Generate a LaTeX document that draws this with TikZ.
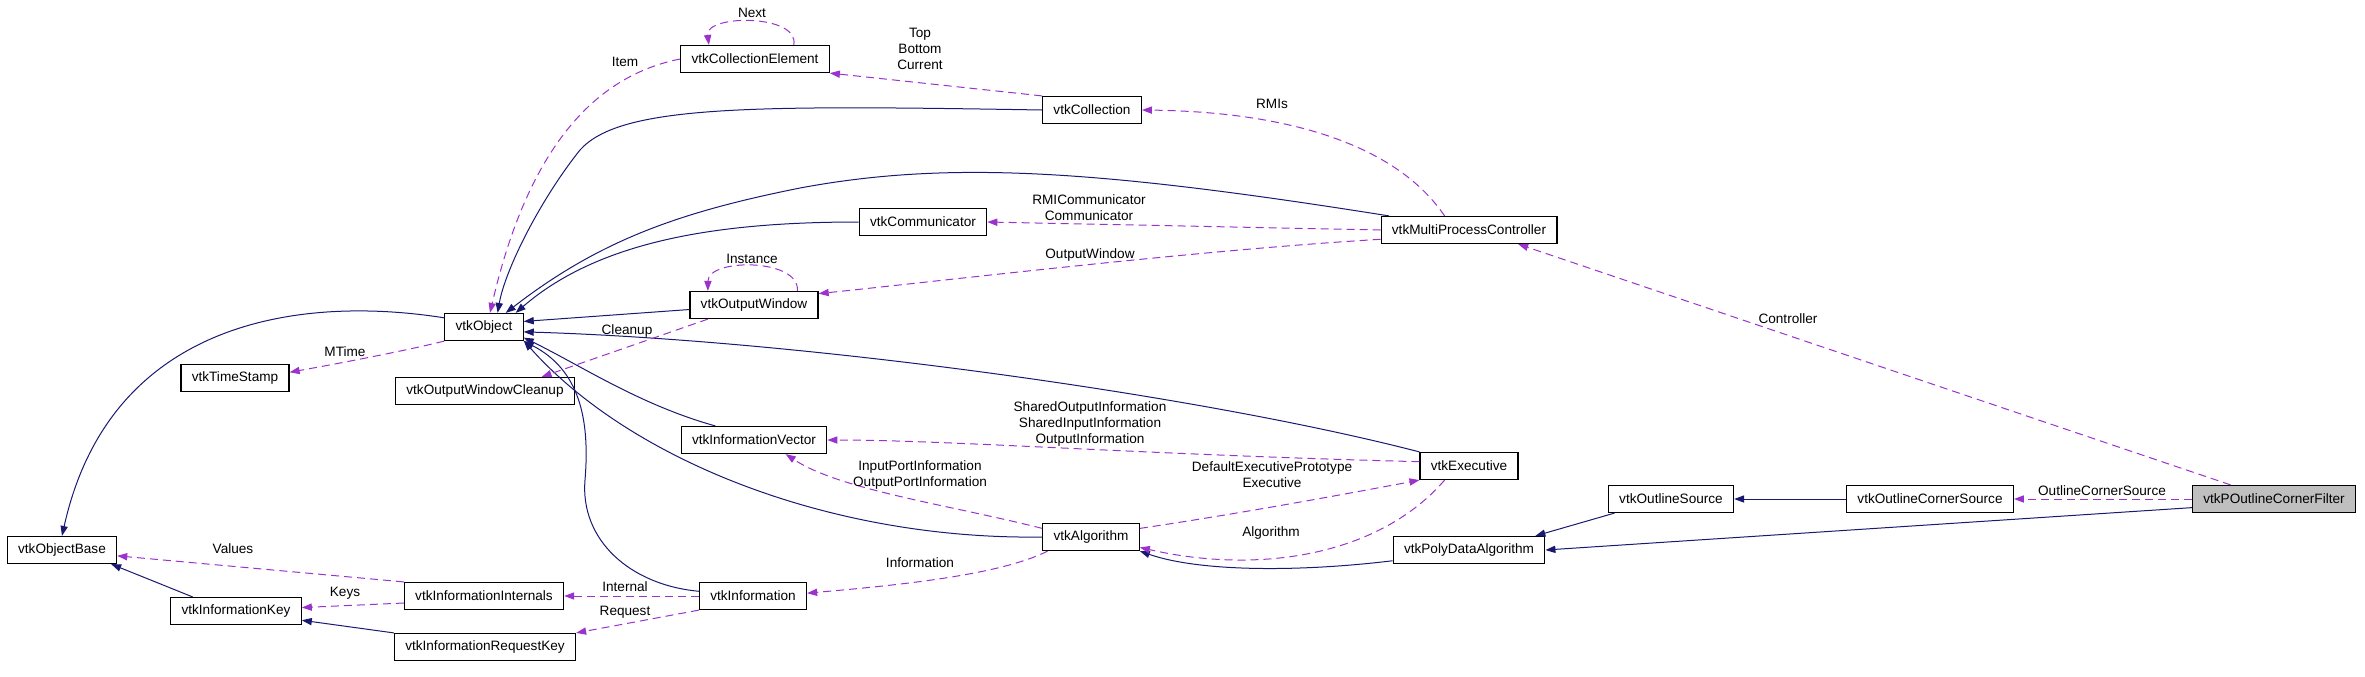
\documentclass[tikz,border=0pt]{standalone}
\usepackage{fontspec}
\setmainfont{Liberation Sans}
\usetikzlibrary{arrows.meta}
\definecolor{inhcol}{HTML}{191970}
\definecolor{usecol}{HTML}{9A32CD}

\begin{document}
\begin{tikzpicture}[x=0.5pt,y=-0.5pt,
	cls/.style={draw, line width=0.6pt, minimum height=13.5pt, inner xsep=5.4pt, inner ysep=0pt, font=\fontsize{6.8}{8}\selectfont},
	inh/.style={draw=inhcol, line width=0.5pt, -{Triangle[length=5pt,width=3.6pt]}},
	usage/.style={draw=usecol, line width=0.5pt, dash pattern=on 4pt off 2.5pt, -{Triangle[length=5pt,width=3.6pt]}},
	lbl/.style={font=\fontsize{6.8}{8}\selectfont, align=center, inner sep=0pt}]
					\useasboundingbox (0,0) rectangle (2365,676);
					
					\node[cls] (obase) at (62,550) {vtkObjectBase};
					\node[cls] (obj) at (484,327) {vtkObject};
					\node[cls] (tstamp) at (235,378) {vtkTimeStamp};
					\node[cls] (cleanup) at (485,391) {vtkOutputWindowCleanup};
					\node[cls] (owin) at (754,305) {vtkOutputWindow};
					\node[cls] (celem) at (755,59) {vtkCollectionElement};
					\node[cls] (coll) at (1092,110) {vtkCollection};
					\node[cls] (comm) at (923,222) {vtkCommunicator};
					\node[cls] (mpc) at (1469,230) {vtkMultiProcessController};
					\node[cls] (ivec) at (754,440) {vtkInformationVector};
					\node[cls] (exec) at (1469,466) {vtkExecutive};
					\node[cls] (alg) at (1091,537) {vtkAlgorithm};
					\node[cls] (pda) at (1469,550) {vtkPolyDataAlgorithm};
					\node[cls] (info) at (753,596) {vtkInformation};
					\node[cls] (iint) at (484,596) {vtkInformationInternals};
					\node[cls] (ikey) at (236,611) {vtkInformationKey};
					\node[cls] (ireq) at (485,647) {vtkInformationRequestKey};
					\node[cls] (osrc) at (1671,499) {vtkOutlineSource};
					\node[cls] (ocsrc) at (1930,499) {vtkOutlineCornerSource};
					\node[cls, fill=black!25] (filter) at (2274,499) {vtkPOutlineCornerFilter};
					
					\draw[inh] (obj.167) .. controls (300,295) and (110,320) .. (obase.north);
					\draw[inh] (coll.west) .. controls (750,105) and (620,105) .. (580,150) .. controls (540,200) and (505,270) .. (obj.46);
					\draw[inh] (mpc.170) .. controls (1100,170) and (950,160) .. (800,188) .. controls (680,212) and (600,240) .. (obj.33);
					\draw[inh] (comm.west) .. controls (720,222) and (600,240) .. (obj.24);
					\draw[inh] (owin.184) -- (obj.8);
					\draw[inh] (exec.north west) .. controls (1200,395) and (800,340) .. (obj.-7);
					\draw[inh] (ivec.160) .. controls (640,405) and (580,365) .. (obj.-15);
					\draw[inh] (alg.west) .. controls (830,540) and (630,460) .. (obj.-19);
					\draw[inh] (info.175) .. controls (630,585) and (580,540) .. (585,480) .. controls (590,420) and (580,370) .. (obj.south east);
					\draw[inh] (ikey.162) -- (obase.-16);
					\draw[inh] (ireq.north west) -- (ikey.-8);
					\draw[inh] (pda.188) .. controls (1300,572) and (1200,572) .. (alg.south east);
					\draw[inh] (osrc.194) -- (pda.12);
					\draw[inh] (ocsrc.west) -- (osrc.east);
					\draw[inh] (filter.186) -- (pda.east);
					
					\draw[usage] (celem.20) .. controls (800,14) and (705,14) .. (celem.163) node[lbl] at (752,13) {Next};
					\draw[usage] (celem.west) .. controls (600,75) and (530,140) .. (obj.67) node[lbl] at (625,62) {Item};
					\draw[usage] (coll.north west) -- (celem.south east) node[lbl] at (920,49) {Top\\Bottom\\Current};
					\draw[usage] (mpc.150) .. controls (1400,150) and (1300,112) .. (coll.east) node[lbl] at (1272,104) {RMIs};
					\draw[usage] (mpc.west) -- (comm.east) node[lbl] at (1089,208) {RMICommunicator\\Communicator};
					\draw[usage] (mpc.186) .. controls (1200,250) and (950,280) .. (owin.10) node[lbl] at (1090,255) {OutputWindow};
					\draw[usage] (owin.18) .. controls (800,258) and (708,258) .. (owin.163) node[lbl] at (752,259) {Instance};
					\draw[usage] (owin.197) -- (cleanup.14) node[lbl] at (627,331) {Cleanup};
					\draw[usage] (obj.south west) .. controls (400,352) and (330,365) .. (tstamp.6) node[lbl] at (345,352) {MTime};
					\draw[usage] (iint.north west) -- (obase.-6) node[lbl] at (233,549) {Values};
					\draw[usage] (iint.185) -- (ikey.3) node[lbl] at (345,593) {Keys};
					\draw[usage] (info.west) -- (iint.east) node[lbl] at (625,587) {Internal};
					\draw[usage] (info.south west) -- (ireq.north east) node[lbl] at (625,612) {Request};
					\draw[usage] (exec.175) .. controls (1150,455) and (950,440) .. (ivec.east) node[lbl] at (1090,424) {SharedOutputInformation\\SharedInputInformation\\OutputInformation};
					\draw[usage] (alg.170) .. controls (950,505) and (840,490) .. (ivec.-24) node[lbl] at (920,475) {InputPortInformation\\OutputPortInformation};
					\draw[usage] (alg.10) .. controls (1230,515) and (1330,497) .. (exec.south west) node[lbl] at (1272,475) {DefaultExecutivePrototype\\Executive};
					\draw[usage] (exec.210) .. controls (1380,555) and (1260,575) .. (alg.-12) node[lbl] at (1271,533) {Algorithm};
					\draw[usage] (alg.198) .. controls (1000,575) and (900,585) .. (info.3) node[lbl] at (920,563) {Information};
					\draw[usage] (filter.162) -- (mpc.-16) node[lbl] at (1788,319) {Controller};
					\draw[usage] (filter.west) -- (ocsrc.east) node[lbl] at (2102,491) {OutlineCornerSource};
\end{tikzpicture}
\end{document}
